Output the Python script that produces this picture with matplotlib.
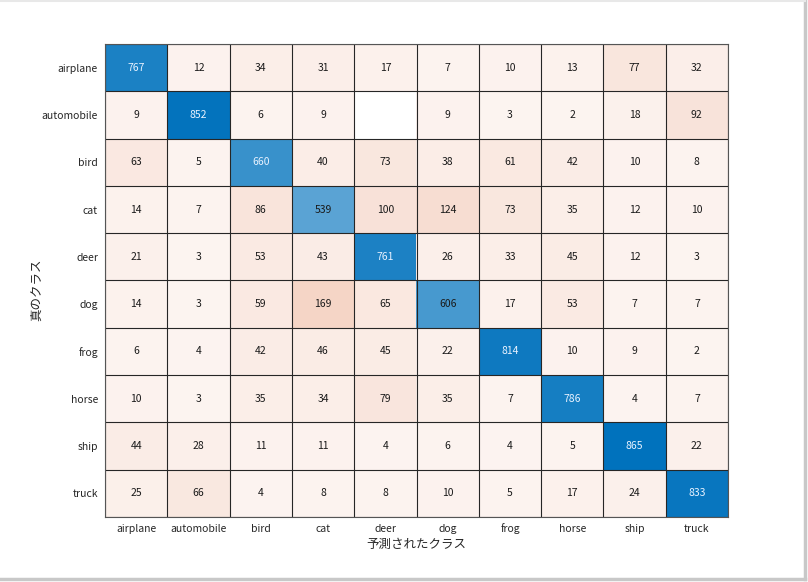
import numpy as np
import matplotlib
matplotlib.use("Agg")
import matplotlib.pyplot as plt
from matplotlib.lines import Line2D

plt.rcParams['font.family'] = ['Noto Sans CJK JP', 'DejaVu Sans']

classes = ["airplane", "automobile", "bird", "cat", "deer", "dog", "frog", "horse", "ship", "truck"]
counts = [
    [767, 12, 34, 31, 17, 7, 10, 13, 77, 32],
    [9, 852, 6, 9, 0, 9, 3, 2, 18, 92],
    [63, 5, 660, 40, 73, 38, 61, 42, 10, 8],
    [14, 7, 86, 539, 100, 124, 73, 35, 12, 10],
    [21, 3, 53, 43, 761, 26, 33, 45, 12, 3],
    [14, 3, 59, 169, 65, 606, 17, 53, 7, 7],
    [6, 4, 42, 46, 45, 22, 814, 10, 9, 2],
    [10, 3, 35, 34, 79, 35, 7, 786, 4, 7],
    [44, 28, 11, 11, 4, 6, 4, 5, 865, 22],
    [25, 66, 4, 8, 8, 10, 5, 17, 24, 833],
]
xlabel_text = "予測されたクラス"
ylabel_text = "真のクラス"

cm = np.array(counts, dtype=float)
n = len(classes)
vmax = cm.max()
blue = np.array([0, 114, 189]) / 255.0
red = np.array([217, 83, 25]) / 255.0
white = np.ones(3)

img = np.ones((n, n, 3))
for i in range(n):
    for j in range(n):
        if cm[i, j] == 0:
            continue
        f = 0.06 + 0.94 * cm[i, j] / vmax
        base = blue if i == j else red
        img[i, j] = white * (1 - f) + base * f

fig = plt.figure(figsize=(8.08, 5.82), dpi=100)
ax = fig.add_axes([0.130, 0.1117, 0.771, 0.8127])
ax.imshow(img, aspect='auto', interpolation='nearest')

for k in range(n + 1):
    ax.axhline(k - 0.5, color='#262626', lw=0.8)
    ax.axvline(k - 0.5, color='#262626', lw=0.8)

for i in range(n):
    for j in range(n):
        v = int(cm[i, j])
        if v == 0:
            continue
        f = cm[i, j] / vmax
        if i == j and f > 0.72:
            col = '#e8f2ff'
        else:
            col = '#1a1a1a'
        ax.text(j, i, str(v), ha='center', va='center', fontsize=7.5, color=col)

ax.set_xticks(range(n))
ax.set_yticks(range(n))
ax.set_xticklabels(classes, fontsize=7.5, color='#262626', va='baseline')
ax.set_yticklabels(classes, fontsize=7.5, color='#262626')
ax.tick_params(axis='x', length=0, pad=10.5)
ax.tick_params(axis='y', length=0, pad=5)
ax.set_xlim(-0.5, n - 0.5)
ax.set_ylim(n - 0.5, -0.5)
for s in ax.spines.values():
    s.set_color('#555555')
    s.set_linewidth(0.8)

ax.set_xlabel(xlabel_text, fontsize=9, color='#262626', labelpad=3)
ax.set_ylabel(ylabel_text, fontsize=9, color='#262626')
ax.yaxis.set_label_coords(-0.1, 0.48)

fig.add_artist(Line2D([0.9965, 0.9965], [0.006, 1.0], color='#c8c8c8', lw=2.5, transform=fig.transFigure))
fig.add_artist(Line2D([0.0, 0.9965], [0.006, 0.006], color='#c8c8c8', lw=2.5, transform=fig.transFigure))
fig.add_artist(Line2D([0.0, 0.9965], [0.999, 0.999], color='#e8e8e8', lw=1.5, transform=fig.transFigure))

fig.savefig("out.png", dpi=100)
